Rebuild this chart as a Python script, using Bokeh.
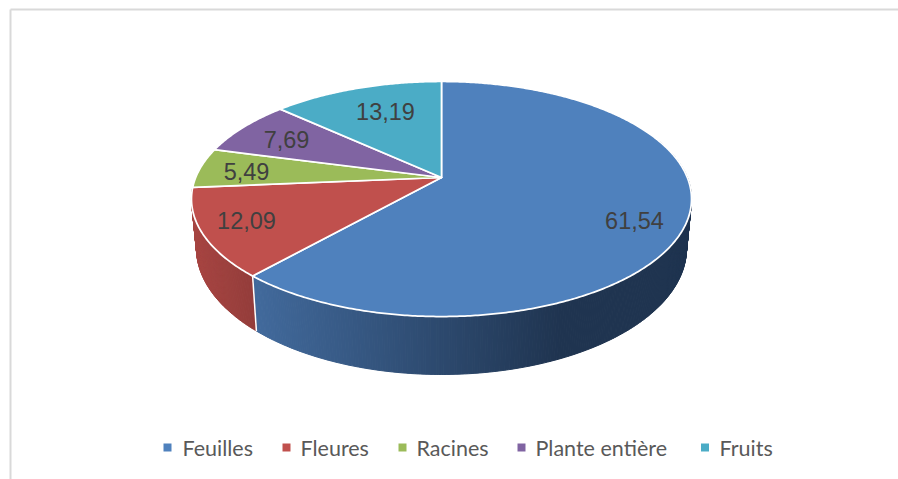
import math
from bokeh.plotting import figure
from bokeh.models import Range1d
from bokeh.core.properties import value
from bokeh.embed import file_html
from bokeh.resources import INLINE

categories = ["Feuilles", "Fleures", "Racines", "Plante entière", "Fruits"]
values = [61.54, 12.09, 5.49, 7.69, 13.19]
value_labels = ["61,54", "12,09", "5,49", "7,69", "13,19"]
colors = ["#4f81bd", "#c0504d", "#9bbb59", "#8064a2", "#4bacc6"]

W, H = 898, 479
p = figure(width=W, height=H, output_backend="svg", toolbar_location=None,
           x_range=Range1d(0, W), y_range=Range1d(H, 0),
           min_border=0, outline_line_color=None, background_fill_color="white",
           border_fill_color="white")
p.xaxis.visible = False
p.yaxis.visible = False
p.grid.visible = False

# frame of the chart area
p.segment(x0=[10, 10], y0=[9, 9], x1=[W, 10], y1=[9, H],
          line_color="#d9d9d9", line_width=2)

# perspective projection of the pie's disc
CX, CY, A, B, K = 441.0, 177.0, 245.8, 113.6, -0.183
BOTTOM_SX, BOTTOM_SY, BOTTOM_CY = 0.98, 1.073, 224.8


def project(theta, bottom=False):
    """theta in radians, clockwise from the top of the disc"""
    u, v = math.sin(theta), -math.cos(theta)
    d = 1 + K * v
    sx = BOTTOM_SX if bottom else 1.0
    sy = BOTTOM_SY if bottom else 1.0
    cy = BOTTOM_CY if bottom else CY
    return CX + sx * A * u / d, cy + sy * B * v / d


def mix(c0, c1, t):
    t = max(0.0, min(1.0, t))
    return "#%02x%02x%02x" % tuple(round(a + (b - a) * t) for a, b in zip(c0, c1))


total = sum(values)
edges = [0.0]
for val in values:
    edges.append(edges[-1] + val / total * 2 * math.pi)

# side wall: one thin quad per step along the rim
STEP = math.radians(0.5)
wall_xs, wall_ys, wall_cs = [], [], []
for i, (c_left, c_right) in {0: ((0x41, 0x69, 0x9b), (0x1f, 0x34, 0x50)),
                             1: ((0x92, 0x3b, 0x39), (0xa6, 0x45, 0x42))}.items():
    a0, a1 = edges[i], edges[i + 1]
    a0 = max(a0, math.radians(70))
    a1 = min(a1, math.radians(285))
    n = int((a1 - a0) / STEP)
    for j in range(n):
        t0 = a0 + (a1 - a0) * j / n
        t1 = a0 + (a1 - a0) * (j + 1) / n
        x0, y0 = project(t0)
        x1, y1 = project(t1)
        x2, y2 = project(t1, True)
        x3, y3 = project(t0, True)
        wall_xs.append([x0, x1, x2, x3])
        wall_ys.append([y0, y1, y2, y3])
        if i == 0:
            # dark on the right, lightening towards the corner on the left
            f = (560 - (x0 + x1) / 2) / (560 - 257)
            wall_cs.append(mix(c_right, c_left, f))
        else:
            f = (257 - (x0 + x1) / 2) / (257 - 196)
            wall_cs.append(mix(c_left, c_right, f))
p.patches(wall_xs, wall_ys, fill_color=wall_cs, line_color=wall_cs, line_width=1)

# white seam at the front corner of the wall
cx0, cy0 = project(edges[1])
cx1, cy1 = project(edges[1], True)
p.line([cx0, cx1], [cy0, cy1], line_color="white", line_width=1.5)

# top face
for i in range(len(values)):
    n = max(4, int((edges[i + 1] - edges[i]) / STEP))
    pts = [project(edges[i] + (edges[i + 1] - edges[i]) * j / n) for j in range(n + 1)]
    xs = [CX] + [q[0] for q in pts]
    ys = [CY] + [q[1] for q in pts]
    p.patch(xs, ys, fill_color=colors[i], line_color="white", line_width=1.75, line_join="round")

# data labels
label_x = [634, 246, 246, 286, 385]
label_y = [220, 220, 171, 139, 111]
p.text(label_x, label_y, text=value_labels, text_font=value("Liberation Sans"),
       text_font_size="23.5px", text_color="#404040", text_align="center", text_baseline="middle")

# legend
marker_x = [167, 286, 402, 521, 704.5]
text_x = [182, 300, 416, 535, 719]
legend_y = [447] * 5
p.scatter(marker_x, legend_y, marker="square", size=8, fill_color=colors, line_color=None)
p.text(text_x, legend_y, text=categories, text_font=value("Lato"), text_font_size="21.5px",
       text_color="#595959", text_align="left", text_baseline="middle")

open("out.html", "w").write(file_html(p, INLINE))
